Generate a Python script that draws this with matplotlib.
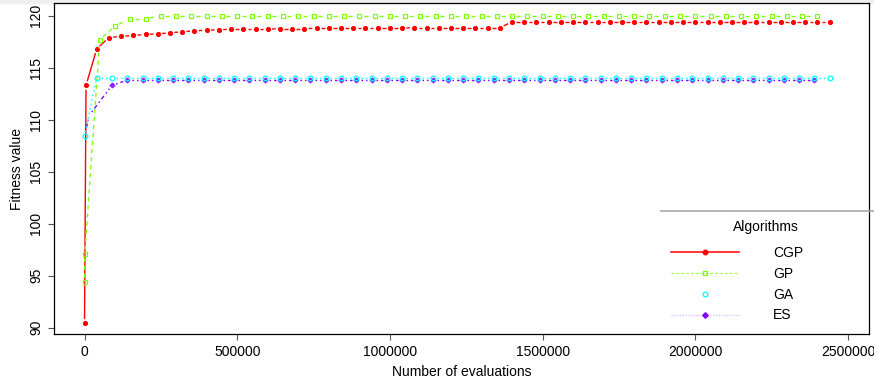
import numpy as np
import matplotlib
matplotlib.use("Agg")
import matplotlib.pyplot as plt
from matplotlib.collections import LineCollection
from matplotlib.lines import Line2D
from matplotlib.patches import Rectangle

plt.rcParams['font.family'] = ['Liberation Sans', 'DejaVu Sans']
plt.rcParams['lines.scale_dashes'] = False

# ---- data ----
# CGP sampled every 40000 evaluations after the first points
cgp_x = [0, 5000, 40000] + list(range(80000, 2440001, 40000))
cgp_y = [90.4, 113.3, 116.8,
         117.9, 118.0, 118.1, 118.2, 118.25, 118.35, 118.45, 118.55, 118.6,
         118.65, 118.7, 118.7, 118.7, 118.7, 118.75, 118.75, 118.75, 118.8,
         118.8, 118.8, 118.8, 118.8, 118.8, 118.8, 118.8,
         118.85, 118.85, 118.85, 118.85, 118.85, 118.85, 118.85, 118.85,
         119.4, 119.4, 119.4, 119.4, 119.4, 119.4, 119.4, 119.4, 119.4,
         119.4, 119.4, 119.4, 119.4, 119.4, 119.4, 119.4, 119.4, 119.4,
         119.4, 119.4, 119.4, 119.4, 119.4, 119.4, 119.4, 119.4, 119.4]

# GP sampled every 50000 evaluations
gp_x = [0, 1000] + list(range(50000, 2400001, 50000))
gp_y = [94.4, 97.1, 117.7, 119.0, 119.7, 119.7,
        120.0, 120.0, 120.0, 120.0, 120.0, 120.0, 120.0, 120.0, 120.0, 120.0, 120.0,
        120.0, 120.0, 120.0, 120.0, 120.0, 120.0, 120.0, 120.0, 120.0, 120.0, 120.0,
        120.0, 120.0, 120.0, 120.0, 120.0, 120.0, 120.0, 120.0, 120.0, 120.0, 120.0,
        120.0, 120.0, 120.0, 120.0, 120.0, 120.0, 120.0, 120.0, 120.0, 120.0, 120.0]

ga_x = [0] + list(range(40000, 2440001, 50000))
ga_y = [108.4,
        114.05, 114.05, 114.05, 114.05, 114.05, 114.05, 114.05, 114.05, 114.05, 114.05,
        114.05, 114.05, 114.05, 114.05, 114.05, 114.05, 114.05, 114.05, 114.05, 114.05,
        114.05, 114.05, 114.05, 114.05, 114.05, 114.05, 114.05, 114.05, 114.05, 114.05,
        114.05, 114.05, 114.05, 114.05, 114.05, 114.05, 114.05, 114.05, 114.05, 114.05,
        114.05, 114.05, 114.05, 114.05, 114.05, 114.05, 114.05, 114.05, 114.05]

es_x = [0, 15000] + list(range(90000, 2390001, 50000))
es_y = [108.4, 110.4, 113.3,
        113.8, 113.8, 113.8, 113.8, 113.8, 113.8, 113.8, 113.8, 113.8, 113.8,
        113.8, 113.8, 113.8, 113.8, 113.8, 113.8, 113.8, 113.8, 113.8, 113.8,
        113.8, 113.8, 113.8, 113.8, 113.8, 113.8, 113.8, 113.8, 113.8, 113.8,
        113.8, 113.8, 113.8, 113.8, 113.8, 113.8, 113.8, 113.8, 113.8, 113.8,
        113.8, 113.8, 113.8, 113.8, 113.8, 113.8]

names = ["CGP", "GP", "GA", "ES"]
colors = ["#FF0000", "#80FF00", "#00FFFF", "#8000FF"]

x_ticks = [0, 500000, 1000000, 1500000, 2000000, 2500000]
y_ticks = [90, 95, 100, 105, 110, 115, 120]

# ---- figure ----
W, H = 874, 382
fig = plt.figure(figsize=(W / 100, H / 100), dpi=100)
fig.add_artist(Rectangle((0, 1 - 3 / H), 1, 3 / H, transform=fig.transFigure,
                         color="#efefef", zorder=-1))
ax = fig.add_axes([54.3 / W, 1 - 334 / H, (869 - 54.3) / W, (334 - 3.3) / H])
ax.set_xlim(-98900, 2568800)
ax.set_ylim(89.39, 121.19)


def draw_b(ax, xs, ys, color, ls, gap=4.3, lw=1.0):
    # R type="b": line segments with a gap round each point
    pts = ax.transData.transform(np.column_stack([xs, ys]))
    inv = ax.transData.inverted()
    segs = []
    for p0, p1 in zip(pts[:-1], pts[1:]):
        d = p1 - p0
        L = np.hypot(d[0], d[1])
        if L <= 2 * gap:
            continue
        u = d / L
        segs.append(inv.transform(np.array([p0 + u * gap, p1 - u * gap])))
    ax.add_collection(LineCollection(segs, colors=color, linewidths=lw, linestyles=ls))


dashed = (0, (2.9, 2.9))
dotted = (0, (1.1, 2.2))
dotdash = (0, (1.1, 2.2, 2.9, 2.2))

draw_b(ax, cgp_x, cgp_y, colors[0], "solid")
ax.plot(cgp_x, cgp_y, ls="none", marker="o", ms=2.7, color=colors[0])

draw_b(ax, gp_x, gp_y, colors[1], dashed)
ax.plot(gp_x, gp_y, ls="none", marker="s", ms=3.3, mfc="none", mew=0.9, color=colors[1])

draw_b(ax, es_x, es_y, colors[3], dotdash)
ax.plot(es_x[2:], es_y[2:], ls="none", marker="D", ms=2.4, color=colors[3], alpha=0.8)

draw_b(ax, ga_x, ga_y, colors[2], dotted)
ax.plot(ga_x, ga_y, ls="none", marker="o", ms=3.4, mfc="none", mew=0.9, color=colors[2])

ax.set_xticks(x_ticks, [str(v) for v in x_ticks])
ax.set_yticks(y_ticks, [str(v) for v in y_ticks], rotation=90, va="center")
ax.tick_params(direction="out", length=4.3, width=0.8, color="#555555",
               labelsize=10, pad=3.6)
for s in ax.spines.values():
    s.set_linewidth(0.9)
    s.set_color("black")

ax.set_xlabel("Number of evaluations", fontsize=10)
ax.set_ylabel("Fitness value", fontsize=10)
ax.xaxis.set_label_coords(0.5, (334 - 372.5) / (334 - 3.3))
ax.yaxis.set_label_coords((17 - 54.3) / (869 - 54.3), 0.5)
ax.xaxis.label.set_va("center")
ax.yaxis.label.set_va("center")

# legend
handles = [
    Line2D([], [], color=colors[0], lw=1.1, marker="o", ms=3.2),
    Line2D([], [], color="#80FF00BB", lw=0.9, ls=(0, (2, 1.5)), marker="s", ms=3.4,
           mfc="none", mec=colors[1], mew=0.9),
    Line2D([], [], ls="none", marker="o", ms=3.4, mfc="none", mec=colors[2], mew=0.9),
    Line2D([], [], color="#8000FF44", lw=0.9, ls=(0, (1, 1)), marker="D", ms=2.8,
           mfc=colors[3], mec=colors[3]),
]
ax.legend(handles, names, loc="upper left", bbox_to_anchor=(671 / W, 1 - 246 / H),
          bbox_transform=fig.transFigure, frameon=False, borderpad=0,
          borderaxespad=0, handlelength=4.9, handletextpad=2.45,
          labelspacing=0.49, fontsize=10)
fig.text(766 / W, 1 - 227 / H, "Algorithms", ha="center", va="center", fontsize=10)
fig.add_artist(Line2D([661 / W, 1], [1 - 211 / H, 1 - 211 / H], color="#a8a8a8",
                      lw=1.2, transform=fig.transFigure))

fig.savefig("out.png", dpi=100)
